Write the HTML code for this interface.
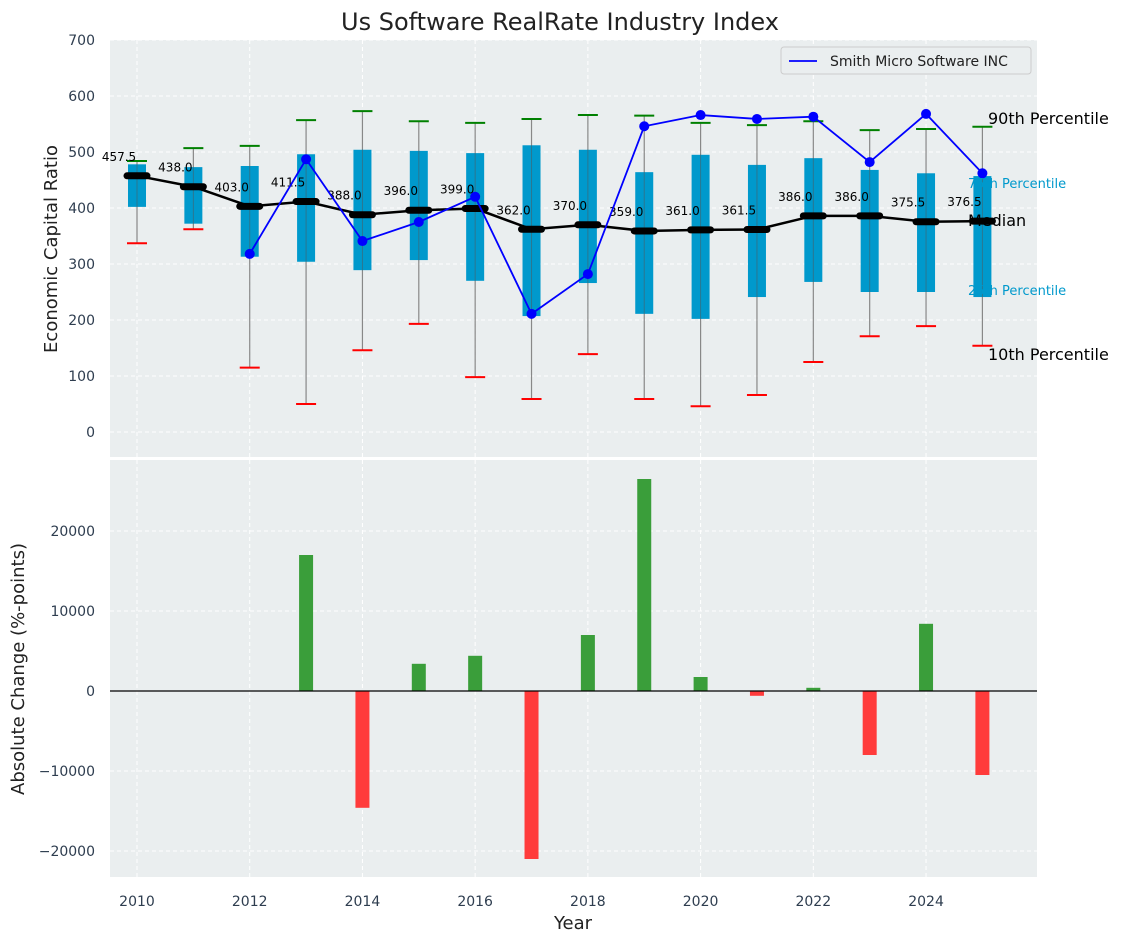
<!DOCTYPE html>
<html><head><meta charset="utf-8"><style>
body{margin:0;background:#fff;font-family:"Liberation Sans","DejaVu Sans",sans-serif}
svg text{font-family:"DejaVu Sans","Liberation Sans",sans-serif}
</style></head><body>
<svg id="c" width="1123" height="942" xmlns="http://www.w3.org/2000/svg"></svg>
<script>
const years=[2010,2011,2012,2013,2014,2015,2016,2017,2018,2019,2020,2021,2022,2023,2024,2025];
const p90=[484,507,511,557,573,555,552,559,566,565,552,548,555,539,541,545];
const p75=[478,473,475,496,504,502,498,512,504,464,495,477,489,468,462,457];
const medians=[457.5,438,403,411.5,388,396,399,362,370,359,361,361.5,386,386,375.5,376.5];
const p25=[402,372,313,304,289,307,270,207,266,211,202,241,268,250,250,241];
const p10=[337,362,115,50,146,193,98,59,139,59,46,66,125,171,189,154];
const company=[null,null,318,487,341,375,420,211,282,546,566,559,563,482,568,462];
const changes=[null,null,null,17000,-14600,3400,4400,-21000,7000,26500,1750,-600,400,-8000,8400,-10500];
const topTicks=[0,100,200,300,400,500,600,700];
const botTicks=[-20000,-10000,0,10000,20000];
const xTicks=[2010,2012,2014,2016,2018,2020,2022,2024];

const NS="http://www.w3.org/2000/svg",svg=document.getElementById('c');
function el(t,a,txt){const e=document.createElementNS(NS,t);for(const k in a)e.setAttribute(k,a[k]);if(txt!=null)e.textContent=txt;svg.appendChild(e);return e;}
const X=y=>137+(y-2010)*56.36;
const Y1=v=>432-v*0.56;
const Y2=v=>691-v*0.008;
const L=110,R=1037;

// panels
let e=el('rect',{x:L,y:40,width:R-L,height:417,fill:'#eaeeef'});

e=el('rect',{x:L,y:460,width:R-L,height:417,fill:'#eaeeef'});


// grids
xTicks.forEach(t=>{
 el('line',{x1:X(t),x2:X(t),y1:40,y2:457,stroke:'#fff','stroke-dasharray':'4,3','stroke-width':1});
 el('line',{x1:X(t),x2:X(t),y1:460,y2:877,stroke:'#fff','stroke-dasharray':'4,3','stroke-width':1});
 e=el('text',{x:X(t),y:906,'text-anchor':'middle','font-size':14,fill:'#2e3d4f'},t);
 
});
topTicks.forEach(t=>{
 el('line',{x1:L,x2:R,y1:Y1(t),y2:Y1(t),stroke:'#fff','stroke-dasharray':'4,3','stroke-width':1});
 e=el('text',{x:95,y:Y1(t)+5,'text-anchor':'end','font-size':14,fill:'#2e3d4f'},t);
 
});
botTicks.forEach(t=>{
 el('line',{x1:L,x2:R,y1:Y2(t),y2:Y2(t),stroke:'#fff','stroke-dasharray':'4,3','stroke-width':1});
 e=el('text',{x:95,y:Y2(t)+5,'text-anchor':'end','font-size':14,fill:'#2e3d4f'},(t<0?'\u2212'+(-t):t));
 
});

// boxes & whiskers
years.forEach((yr,i)=>{
 const x=X(yr);
 e=el('line',{x1:x,x2:x,y1:Y1(p10[i]),y2:Y1(p90[i]),stroke:'#888','stroke-width':1.2});
 
 e=el('rect',{x:x-9,y:Y1(p75[i]),width:18,height:Y1(p25[i])-Y1(p75[i]),fill:'#0099cc'});
 
 el('line',{x1:x,x2:x,y1:Y1(p25[i]),y2:Y1(p75[i]),stroke:'#555','stroke-width':1,opacity:0.5});
 e=el('line',{x1:x-10,x2:x+10,y1:Y1(p90[i]),y2:Y1(p90[i]),stroke:'green','stroke-width':2});
 
 e=el('line',{x1:x-10,x2:x+10,y1:Y1(p10[i]),y2:Y1(p10[i]),stroke:'red','stroke-width':2});
 
});
// median line
e=el('polyline',{points:years.map((y,i)=>X(y)+','+Y1(medians[i])).join(' '),fill:'none',stroke:'#000','stroke-width':2.5});

years.forEach((yr,i)=>{
 const x=X(yr),y=Y1(medians[i]);
 e=el('line',{x1:x-10,x2:x+10,y1:y,y2:y,stroke:'#000','stroke-width':7,'stroke-linecap':'round'});
 
 e=el('text',{x:x-18,y:y-15,'text-anchor':'middle','font-size':12,fill:'#000'},medians[i].toFixed(1));
 
});
// company line
const pts=years.map((y,i)=>company[i]==null?null:[X(y),Y1(company[i])]).filter(p=>p);
e=el('polyline',{points:pts.map(p=>p.join(',')).join(' '),fill:'none',stroke:'#0000ff','stroke-width':1.8});

pts.forEach(p=>{e=el('circle',{cx:p[0],cy:p[1],r:5,fill:'#0000ff'});
 });

// annotations
[['90th Percentile',988,124,16,'#000'],['75th Percentile',968,188,13,'#0099cc'],['Median',968,226,16,'#000'],['25th Percentile',968,295,13,'#0099cc'],['10th Percentile',988,360,16,'#000']].forEach(a=>{
 e=el('text',{x:a[1],y:a[2],'font-size':a[3],fill:a[4]},a[0]);
 
});

// legend
e=el('rect',{x:781,y:47,width:250,height:27,fill:'#eaeeef',stroke:'#ccc',rx:3});

el('line',{x1:789,x2:817,y1:61,y2:61,stroke:'#0000ff','stroke-width':1.8});
e=el('text',{x:830,y:66,'font-size':14,fill:'#222'},'Smith Micro Software INC');


// bars
years.forEach((yr,i)=>{
 const v=changes[i]; if(v==null)return;
 const y0=Y2(0),y1=Y2(v);
 e=el('rect',{x:X(yr)-7,y:Math.min(y0,y1),width:14,height:Math.abs(y1-y0),fill:v>=0?'#3a9e3a':'#ff3b3b'});
 
});
e=el('line',{x1:L,x2:R,y1:Y2(0),y2:Y2(0),stroke:'#000','stroke-width':1.2});


// titles
e=el('text',{x:560,y:30,'text-anchor':'middle','font-size':24,fill:'#222'},'Us Software RealRate Industry Index');

e=el('text',{x:573,y:929,'text-anchor':'middle','font-size':18,fill:'#222'},'Year');

e=el('text',{x:0,y:0,'text-anchor':'middle','font-size':18,fill:'#222',transform:'translate(57,249) rotate(-90)'},'Economic Capital Ratio');

e=el('text',{x:0,y:0,'text-anchor':'middle','font-size':18,fill:'#222',transform:'translate(24,669) rotate(-90)'},'Absolute Change (%-points)');

</script>
</body></html>
